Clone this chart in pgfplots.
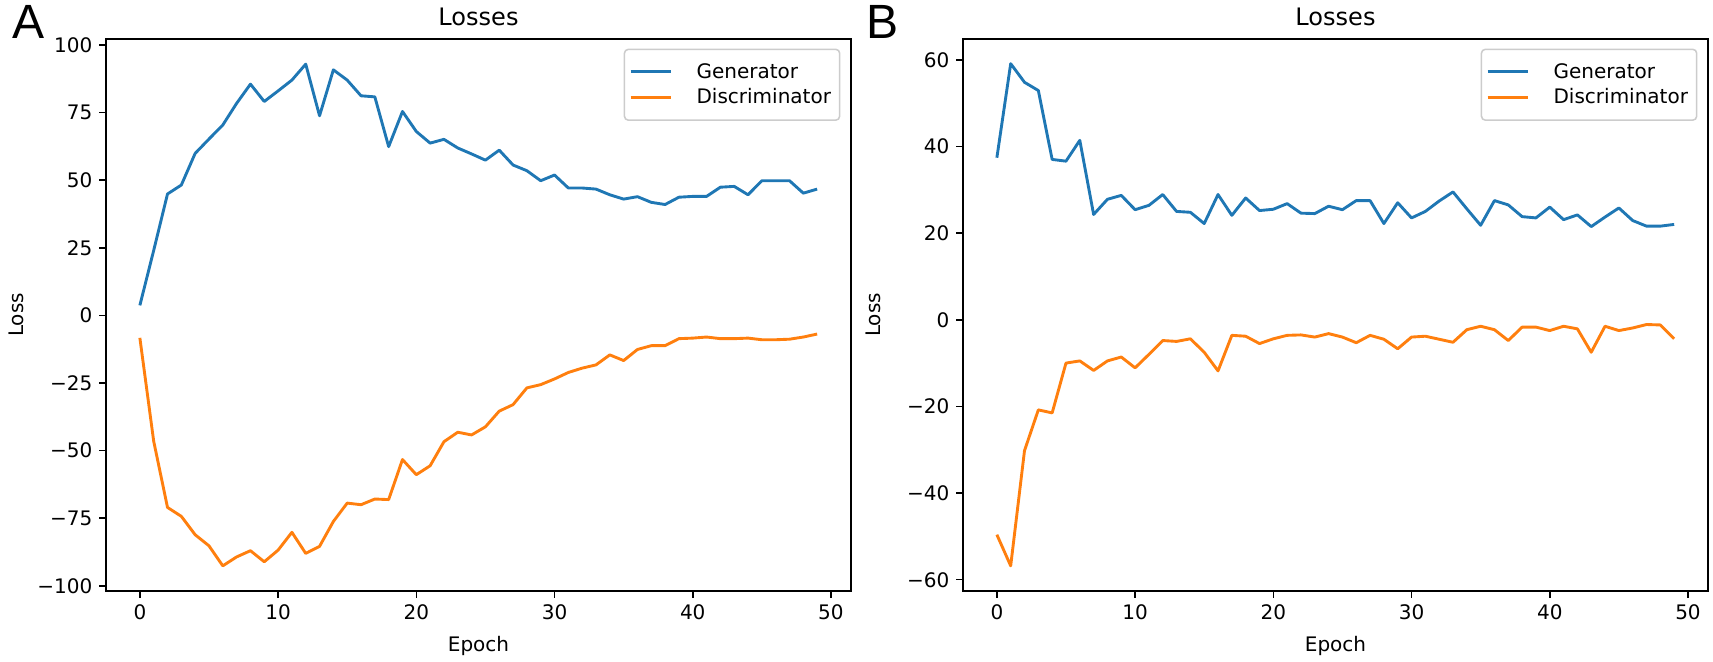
\documentclass[border=0pt]{standalone}
\usepackage{fontspec}
\setmainfont{DejaVu Sans}
\newfontfamily\panelfont{Liberation Sans}
\usepackage{pgfplots}
\usepackage{pgfplotstable}
\pgfplotsset{compat=1.18}
\definecolor{tabblue}{HTML}{1F77B4}
\definecolor{taborange}{HTML}{FF7F0E}

\pgfplotstableread{
x gen disc
0 3.7 -8.3
1 24 -46.5
2 44.9 -71
3 48.2 -74.3
4 59.9 -81.1
5 65.2 -85.2
6 70.4 -92.6
7 78.4 -89.3
8 85.5 -87
9 79.1 -91.1
10 83 -86.8
11 87 -80.2
12 92.9 -88
13 73.8 -85.4
14 90.8 -76.2
15 87 -69.4
16 81.2 -70
17 80.8 -67.9
18 62.4 -68.1
19 75.4 -53.3
20 68 -58.9
21 63.7 -55.6
22 65.1 -46.7
23 61.9 -43.2
24 59.7 -44.2
25 57.4 -41.2
26 61.1 -35.4
27 55.6 -33
28 53.5 -26.8
29 49.8 -25.6
30 51.9 -23.5
31 47.1 -21.1
32 47.1 -19.5
33 46.7 -18.3
34 44.6 -14.6
35 43 -16.7
36 43.9 -12.6
37 41.8 -11.2
38 41 -11.2
39 43.7 -8.6
40 44 -8.4
41 44 -8
42 47.4 -8.6
43 47.7 -8.6
44 44.6 -8.4
45 49.8 -9
46 49.8 -9
47 49.8 -8.8
48 45.2 -8
49 46.7 -6.9
}\dataA

\pgfplotstableread{
x gen disc
0 37.4 -49.6
1 59.1 -56.8
2 54.8 -30.2
3 52.9 -20.8
4 37 -21.5
5 36.6 -10
6 41.4 -9.5
7 24.3 -11.7
8 27.8 -9.5
9 28.7 -8.6
10 25.4 -11.1
11 26.4 -8
12 28.9 -4.8
13 25 -5
14 24.8 -4.4
15 22.2 -7.5
16 28.9 -11.8
17 24.1 -3.6
18 28.1 -3.8
19 25.2 -5.5
20 25.5 -4.4
21 26.8 -3.6
22 24.6 -3.5
23 24.5 -4
24 26.2 -3.2
25 25.4 -4
26 27.5 -5.3
27 27.5 -3.6
28 22.2 -4.5
29 27 -6.7
30 23.5 -4
31 25 -3.8
32 27.4 -4.5
33 29.5 -5.2
34 25.6 -2.3
35 21.8 -1.5
36 27.5 -2.3
37 26.5 -4.8
38 23.8 -1.7
39 23.5 -1.7
40 26 -2.5
41 23.1 -1.5
42 24.2 -2.1
43 21.5 -7.5
44 23.7 -1.5
45 25.8 -2.5
46 22.9 -1.9
47 21.6 -1.1
48 21.6 -1.2
49 22 -4.4
}\dataB

\pgfplotsset{
  lossaxis/.style={
    scale only axis,
    width=387.4pt, height=287.04pt,
    anchor=south west,
    xmin=-2.45, xmax=51.45,
    axis line style={line width=0.8pt, black},
    tick align=outside,
    tick style={black, line width=0.8pt},
    major tick length=3.6pt,
    xtick pos=bottom, ytick pos=left,
    xtick={0,10,20,30,40,50},
    xticklabels={0,10,20,30,40,50},
    every tick label/.append style={font=\fontsize{10.4}{12.5}\selectfont},
    title=Losses,
    title style={font=\fontsize{12.5}{15}\selectfont, anchor=base, yshift=0.8pt},
    xlabel=Epoch, ylabel=Loss,
    label style={font=\fontsize{10.4}{12.5}\selectfont},
    xlabel style={at={(axis description cs:0.5,-0.099)}, anchor=center},
    ylabel style={at={(axis description cs:-0.120,0.5)}, anchor=center},
    legend image code/.code={\draw[#1] (0pt,0pt) -- (21pt,0pt);},
    legend style={at={(rel axis cs:1,1)}, anchor=north east, xshift=-5.5pt, yshift=-5pt,
      draw=black!20, line width=0.8pt, rounded corners=2pt, fill=white, fill opacity=0.8, text opacity=1,
      inner xsep=2.5pt, inner ysep=5pt, row sep=0pt,
      nodes={inner sep=2pt, anchor=west},
      /tikz/every odd column/.append style={column sep=10.5pt},
      font=\fontsize{10.4}{12.5}\selectfont},
    legend cell align=left,
    gline/.style={tabblue, line width=1.5pt, line join=round},
    dline/.style={taborange, line width=1.5pt, line join=round},
  }
}

\begin{document}
\begin{tikzpicture}
\useasboundingbox (0,0) rectangle (890.76pt,344.24pt);
\begin{axis}[lossaxis, at={(55.12pt,36.92pt)},
  ymin=-101.9, ymax=102.2,
  ytick={-100,-75,-50,-25,0,25,50,75,100},
  yticklabels={−100,−75,−50,−25,0,25,50,75,100}]
\addplot[gline] table[x=x,y=gen]{\dataA};
\addplot[dline] table[x=x,y=disc]{\dataA};
\legend{\rlap{Generator}\phantom{Discriminator},Discriminator}
\end{axis}
\begin{axis}[lossaxis, at={(500.76pt,36.92pt)},
  ymin=-62.6, ymax=64.8,
  ytick={-60,-40,-20,0,20,40,60},
  yticklabels={−60,−40,−20,0,20,40,60}]
\addplot[gline] table[x=x,y=gen]{\dataB};
\addplot[dline] table[x=x,y=disc]{\dataB};
\legend{\rlap{Generator}\phantom{Discriminator},Discriminator}
\end{axis}
\node[anchor=north west, inner sep=0pt, font=\panelfont\fontsize{25}{30}\selectfont] at (6.1pt,341.6pt) {A};
\node[anchor=north west, inner sep=0pt, font=\panelfont\fontsize{25}{30}\selectfont] at (450.3pt,341.6pt) {B};
\end{tikzpicture}
\end{document}
